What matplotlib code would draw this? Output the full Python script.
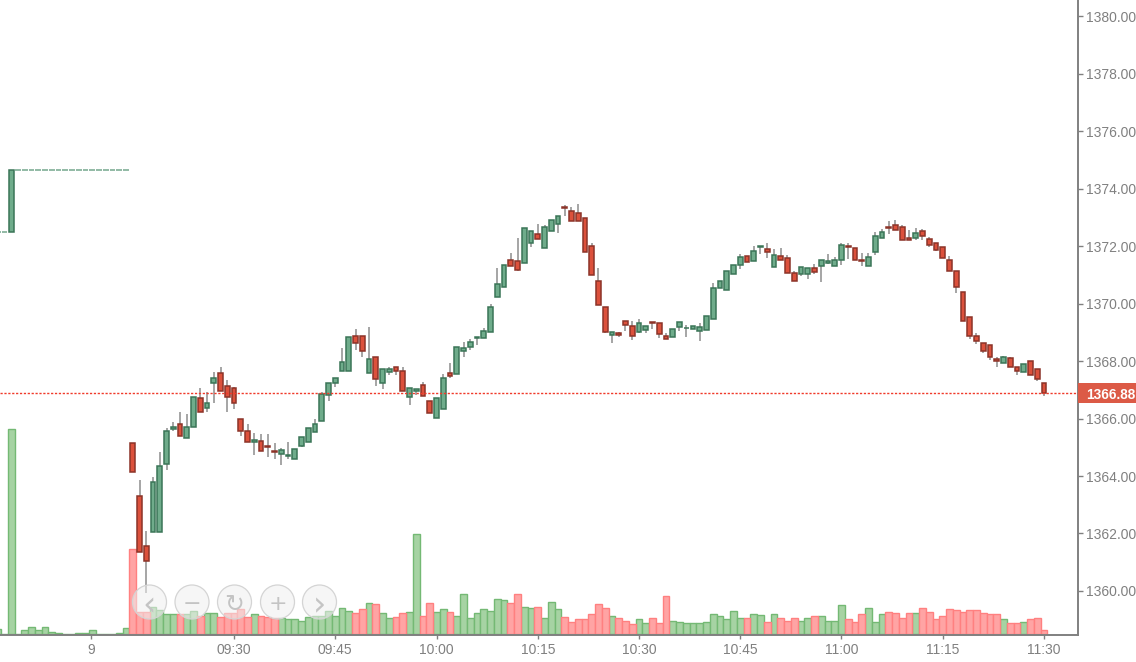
import numpy as np
import matplotlib
matplotlib.use('Agg')
import matplotlib.pyplot as plt
from matplotlib.patches import Circle, Rectangle

plt.rcParams['font.family'] = ['Liberation Sans', 'DejaVu Sans']

# 1 bar = 1 minute, bar 0 = 09:30
first_bar = -35
last_price = 1366.88

# pre-open bars (-35 .. -16)
pre_opens = [1372.5, 1372.5, 1372.5] + [1374.65] * 17
pre_closes = [1372.5, 1372.5, 1374.65] + [1374.65] * 17
pre_volumes = [5, 0, 205, 0, 4, 7, 4, 7, 2.5, 1, 0, 0, 1, 1, 4, 0, 0, 0, 1, 6]

# session bars (-15 .. 120)
opens = [
    1365.14, 1363.31, 1361.58, 1362.05, 1362.05, 1364.43, 1365.62, 1365.80, 1365.31, 1365.70,
    1366.70, 1366.35, 1367.22, 1367.57, 1367.14, 1367.05, 1365.97, 1365.57, 1365.18, 1365.23,
    1365.05, 1364.88, 1364.78, 1364.69, 1364.60, 1365.04, 1365.18, 1365.52, 1365.92, 1366.83,
    1367.22, 1367.65, 1367.65, 1368.87, 1368.87, 1367.57, 1368.13, 1367.22, 1367.63, 1367.78,
    1367.65, 1366.76, 1366.97, 1367.18, 1366.61, 1366.01, 1366.33, 1367.57, 1367.54, 1368.36,
    1368.47, 1368.80, 1368.79, 1369.01, 1370.23, 1370.56, 1371.52, 1371.48, 1371.40, 1372.09,
    1372.41, 1371.92, 1372.52, 1372.75, 1373.37, 1373.23, 1373.14, 1372.96, 1372.01, 1370.79,
    1369.88, 1368.92, 1368.96, 1369.40, 1369.22, 1369.00, 1369.09, 1369.36, 1369.31, 1368.87,
    1368.83, 1369.17, 1369.14, 1369.12, 1369.04, 1369.09, 1369.47, 1370.53, 1370.48, 1371.01,
    1371.35, 1371.65, 1371.48, 1371.95, 1371.88, 1371.27, 1371.66, 1371.57, 1371.05, 1371.03,
    1371.03, 1371.22, 1371.32, 1371.40, 1371.32, 1371.52, 1372.01, 1371.92, 1371.52, 1371.30,
    1371.78, 1372.27, 1372.67, 1372.72, 1372.67, 1372.28, 1372.27, 1372.53, 1372.23, 1372.09,
    1371.95, 1371.52, 1371.13, 1370.40, 1369.52, 1368.87, 1368.61, 1368.57, 1368.06, 1367.92,
    1368.09, 1367.78, 1367.62, 1368.01, 1367.71, 1367.22,
]
closes = [
    1364.14, 1361.36, 1361.04, 1363.79, 1364.36, 1365.58, 1365.70, 1365.39, 1365.70, 1366.75,
    1366.23, 1366.53, 1367.40, 1366.96, 1366.75, 1366.53, 1365.57, 1365.18, 1365.24, 1364.87,
    1365.00, 1364.83, 1364.89, 1364.72, 1364.93, 1365.36, 1365.66, 1365.80, 1366.84, 1367.22,
    1367.40, 1367.96, 1368.82, 1368.61, 1368.36, 1368.06, 1367.36, 1367.73, 1367.71, 1367.66,
    1366.97, 1367.05, 1367.01, 1366.79, 1366.18, 1366.70, 1367.40, 1367.49, 1368.49, 1368.44,
    1368.66, 1368.85, 1369.05, 1369.88, 1370.67, 1371.35, 1371.32, 1371.18, 1372.61, 1372.52,
    1372.26, 1372.65, 1372.92, 1373.06, 1373.31, 1372.87, 1372.87, 1371.79, 1371.00, 1369.96,
    1369.00, 1369.01, 1368.92, 1369.26, 1368.87, 1369.31, 1369.23, 1369.31, 1368.95, 1368.75,
    1369.10, 1369.36, 1369.16, 1369.23, 1369.18, 1369.57, 1370.53, 1370.79, 1371.14, 1371.35,
    1371.62, 1371.44, 1371.83, 1372.01, 1371.78, 1371.70, 1371.52, 1371.05, 1370.79, 1371.27,
    1371.22, 1371.10, 1371.52, 1371.49, 1371.52, 1372.02, 1371.97, 1371.52, 1371.48, 1371.62,
    1372.36, 1372.49, 1372.61, 1372.56, 1372.22, 1372.22, 1372.44, 1372.35, 1372.05, 1371.86,
    1371.57, 1371.14, 1370.56, 1369.40, 1368.88, 1368.68, 1368.35, 1368.13, 1368.01, 1368.14,
    1367.78, 1367.64, 1367.91, 1367.52, 1367.39, 1366.88,
]
highs = [
    1365.14, 1363.86, 1362.10, 1363.98, 1364.85, 1365.68, 1365.89, 1366.24, 1366.14, 1366.75,
    1367.07, 1366.93, 1367.63, 1367.80, 1367.34, 1367.11, 1365.97, 1365.80, 1365.51, 1365.46,
    1365.46, 1365.16, 1364.99, 1365.19, 1364.93, 1365.36, 1365.66, 1365.97, 1366.93, 1367.22,
    1367.40, 1368.44, 1368.82, 1369.10, 1368.87, 1369.19, 1368.13, 1367.73, 1367.80, 1367.80,
    1367.80, 1367.05, 1367.01, 1367.28, 1366.61, 1366.70, 1367.54, 1367.92, 1368.49, 1368.67,
    1368.75, 1368.85, 1369.14, 1369.98, 1371.25, 1371.35, 1371.77, 1372.29, 1372.61, 1372.52,
    1372.77, 1372.72, 1372.92, 1373.06, 1373.43, 1373.34, 1373.46, 1372.96, 1372.12, 1371.25,
    1369.88, 1369.01, 1369.00, 1369.40, 1369.40, 1369.45, 1369.23, 1369.36, 1369.33, 1368.99,
    1369.10, 1369.36, 1369.24, 1369.23, 1369.33, 1369.57, 1370.72, 1370.79, 1371.14, 1371.35,
    1371.72, 1371.65, 1372.01, 1372.01, 1372.12, 1371.88, 1371.93, 1371.67, 1371.13, 1371.27,
    1371.22, 1371.36, 1371.52, 1371.71, 1371.62, 1372.09, 1372.09, 1371.92, 1371.77, 1371.77,
    1372.50, 1372.58, 1372.87, 1372.90, 1372.74, 1372.56, 1372.61, 1372.58, 1372.32, 1372.09,
    1371.95, 1371.66, 1371.13, 1370.40, 1369.52, 1368.99, 1368.61, 1368.57, 1368.15, 1368.18,
    1368.15, 1367.78, 1367.91, 1368.01, 1367.71, 1367.22,
]
lows = [
    1364.14, 1361.36, 1359.94, 1362.05, 1362.05, 1364.21, 1365.57, 1365.39, 1365.31, 1365.70,
    1366.23, 1366.23, 1366.53, 1366.96, 1366.21, 1366.34, 1365.39, 1365.18, 1364.73, 1364.87,
    1364.65, 1364.59, 1364.38, 1364.59, 1364.60, 1365.00, 1365.18, 1365.52, 1365.92, 1366.61,
    1367.08, 1367.65, 1367.65, 1368.38, 1368.15, 1367.57, 1367.13, 1367.04, 1367.51, 1367.51,
    1366.97, 1366.48, 1366.82, 1366.79, 1366.18, 1366.01, 1366.33, 1367.40, 1367.54, 1368.15,
    1368.38, 1368.56, 1368.79, 1369.01, 1370.23, 1370.56, 1371.32, 1371.13, 1371.40, 1371.98,
    1372.26, 1371.92, 1372.52, 1372.44, 1373.04, 1372.87, 1372.87, 1371.79, 1371.00, 1369.96,
    1368.96, 1368.64, 1368.85, 1369.04, 1368.73, 1368.97, 1368.99, 1369.12, 1368.81, 1368.75,
    1368.83, 1369.04, 1368.82, 1369.12, 1368.68, 1369.09, 1369.47, 1370.53, 1370.48, 1371.01,
    1371.21, 1371.44, 1371.48, 1371.72, 1371.60, 1371.27, 1371.52, 1371.05, 1370.79, 1370.95,
    1370.86, 1371.04, 1370.75, 1371.36, 1371.32, 1371.34, 1371.54, 1371.52, 1371.30, 1371.30,
    1371.69, 1372.27, 1372.41, 1372.56, 1372.22, 1372.22, 1372.21, 1372.21, 1371.95, 1371.81,
    1371.57, 1371.14, 1370.38, 1369.40, 1368.78, 1368.60, 1368.27, 1368.03, 1367.80, 1367.92,
    1367.78, 1367.50, 1367.62, 1367.52, 1367.29, 1366.78,
]
volumes = [
    85, 22, 22, 27, 24, 20, 20, 20, 20, 23,
    18, 21, 21, 17, 21, 21, 25, 17, 20, 18,
    17, 16, 16, 15, 15, 13, 17, 18, 18, 23,
    18, 26, 23, 21, 25, 31, 30, 21, 16, 17,
    21, 22, 100, 18, 31, 22, 25, 22, 18, 40,
    16, 21, 25, 23, 35, 34, 31, 40, 27, 26,
    27, 16, 32, 25, 17, 12, 15, 15, 20, 30,
    26, 18, 16, 13, 10, 15, 11, 16, 11, 38,
    13, 12, 11, 11, 11, 12, 20, 18, 15, 23,
    16, 16, 20, 19, 12, 20, 16, 13, 16, 13,
    16, 18, 18, 13, 13, 29, 15, 12, 20, 26,
    12, 20, 22, 21, 16, 21, 21, 26, 22, 15,
    18, 25, 24, 22, 24, 24, 21, 20, 20, 15,
    11, 11, 12, 15, 16, 4,
]

tick_bars = [-21.2, 0, 15, 30, 45, 60, 75, 90, 105, 120]
tick_labels = ['9', '09:30', '09:45', '10:00', '10:15', '10:30', '10:45', '11:00', '11:15', '11:30']
price_ticks = [1360, 1362, 1364, 1366, 1368, 1370, 1372, 1374, 1376, 1378, 1380]

o = np.array(pre_opens + opens)
c = np.array(pre_closes + closes)
h = np.concatenate([np.maximum(pre_opens, pre_closes), highs])
l = np.concatenate([np.minimum(pre_opens, pre_closes), lows])
v = np.array(pre_volumes + volumes, dtype=float)
x = np.arange(first_bar, first_bar + len(o))
up = c >= o

GREY = '#808080'

fig = plt.figure(figsize=(11.36, 6.62), dpi=100)
rect = [0, 26.7 / 662, 1078 / 1136, 635.3 / 662]

# volume sits behind the candles
ax_vol = fig.add_axes(rect, zorder=1)
ax = fig.add_axes(rect, zorder=2)
ax.patch.set_alpha(0)
ax.set_xlim(-34.67, 125.04)
ax.set_ylim(1358.459, 1380.557)
ax_vol.set_xlim(ax.get_xlim())
ax_vol.set_ylim(-1.3, 634)
ax_vol.axis('off')

ax_vol.bar(x[up], v[up], width=6.6 / 6.75, color='#a6d3a3', edgecolor='#74b974', linewidth=1.0)
ax_vol.bar(x[~up], v[~up], width=6.6 / 6.75, color='#ffa4a4', edgecolor='#ff8080', linewidth=1.0)

# wicks
ax.vlines(x, l, h, color='#969696', linewidth=1.2, zorder=3)

# candle bodies, the flat pre-open ones are drawn lighter
flat = np.abs(c - o) < 0.001
body_w = 4.8 / 6.75
bottoms = np.minimum(o, c)
heights = np.abs(c - o)
m = up & ~flat
ax.bar(x[m], heights[m], bottom=bottoms[m], width=body_w, color='#6fac8b', edgecolor='#3a7557',
       linewidth=1.1, zorder=4)
m = ~up
ax.bar(x[m], heights[m], bottom=bottoms[m], width=body_w, color='#dc513c', edgecolor='#8c3328',
       linewidth=1.1, zorder=4)
ax.hlines(c[flat], x[flat] - 0.42, x[flat] + 0.42, color='#7fae96', linewidth=1.2, zorder=4)

# last price line and tag
ax.axhline(last_price, color='#f03a2a', linewidth=1.0, linestyle=(0, (1.6, 1.2)), zorder=5)
ax.add_patch(Rectangle((1, last_price - 0.345), 58 / 1078, 0.69, transform=ax.get_yaxis_transform(),
                       clip_on=False, facecolor='#dc5a46', edgecolor='none', zorder=6))
ax.text(1 + 8 / 1078, last_price, f'{last_price:.2f}', transform=ax.get_yaxis_transform(),
        color='white', fontsize=9.8, fontweight='bold', va='center_baseline', ha='left', zorder=7)

# axes
for side in ['left', 'top']:
    ax.spines[side].set_visible(False)
for side in ['right', 'bottom']:
    ax.spines[side].set_color(GREY)
    ax.spines[side].set_linewidth(1.4)
ax.yaxis.tick_right()
ax.set_yticks(price_ticks)
ax.set_yticklabels([f'{p:.2f}' for p in price_ticks])
ax.set_xticks(tick_bars)
ax.set_xticklabels(tick_labels)
ax.tick_params(axis='y', colors=GREY, labelsize=10, length=3.5, width=1.0, pad=2)
ax.tick_params(axis='x', colors=GREY, labelsize=10, length=3.2, width=1.0, pad=2.5)

# zoom/scroll buttons of the chart widget, in pixel coordinates
ax_ui = fig.add_axes([0, 0, 1, 1], zorder=3)
ax_ui.set_xlim(0, 1136)
ax_ui.set_ylim(662, 0)
ax_ui.axis('off')
buttons = zip([149.5, 192, 234.5, 277.5, 319.5], ['‹', '−', '↻', '+', '›'], [24, 16, 17, 16, 24])
for cx, glyph, size in buttons:
    ax_ui.add_patch(Circle((cx, 602), 17, facecolor='#efefef', alpha=0.55, edgecolor='none'))
    ax_ui.add_patch(Circle((cx, 602), 17, facecolor='none', edgecolor='#d4d4d4', linewidth=0.9))
    ax_ui.text(cx, 602, glyph, color='#c4c4c4', fontsize=size, ha='center', va='center_baseline',
               family='DejaVu Sans')

fig.savefig('out.png', dpi=100, facecolor='white')
